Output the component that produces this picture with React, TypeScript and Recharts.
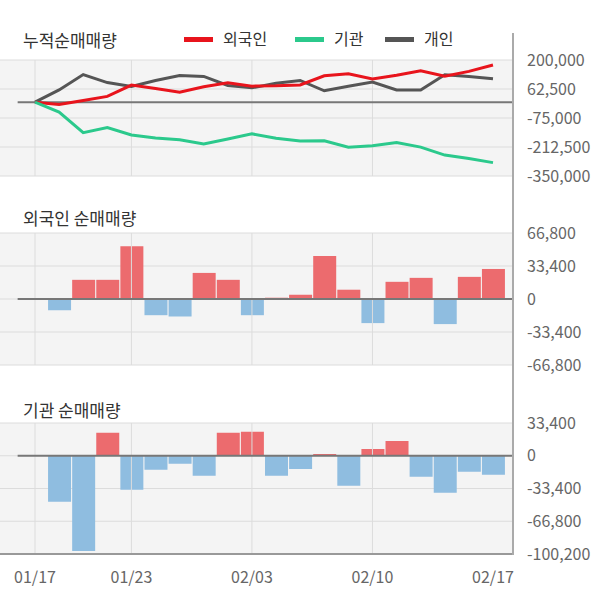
import React from 'react';
import {
  ComposedChart,
  Line,
  Bar,
  Cell,
  XAxis,
  YAxis,
  CartesianGrid,
  ReferenceLine,
} from 'recharts';

const dates = [
  '01/17', '01/20', '01/21', '01/22', '01/23', '01/28', '01/29', '01/30', '01/31', '02/03',
  '02/04', '02/05', '02/06', '02/07', '02/10', '02/11', '02/12', '02/13', '02/14', '02/17',
];
const tickIdx = [0, 4, 9, 14, 19];
const gridIdx = [0, 4, 9, 14];

// 누적순매매량
const foreignCum = [0, -11400, 8000, 27400, 80800, 64400, 46700, 73100, 92500, 76100, 77500, 81800, 125200, 134600, 110200, 127600, 149000, 123600, 146000, 176400];
const instCum = [0, -47000, -144200, -120700, -155400, -169700, -177900, -198300, -174800, -150300, -170700, -184400, -182700, -213300, -206500, -191500, -213000, -250800, -267200, -286600];
const indivCum = [0, 58000, 131000, 93000, 74000, 103000, 126000, 122000, 79000, 68000, 90000, 103000, 54000, 76000, 95000, 58000, 58000, 130000, 122000, 111000];

// 일별 순매매량
const foreignNet = [null, -11400, 19400, 19400, 53400, -16400, -17700, 26400, 19400, -16400, 1300, 4300, 43400, 9400, -24400, 17400, 21400, -25400, 22400, 30400];
const instNet = [null, -47000, -97100, 23500, -34800, -14300, -8200, -20500, 23500, 24500, -20500, -13600, 1700, -30700, 6800, 15000, -21500, -37800, -16400, -19400];

const cumTicks = [200000, 62500, -75000, -212500, -350000];
const foreignTicks = [66800, 33400, 0, -33400, -66800];
const instTicks = [33400, 0, -33400, -66800, -100200];

const rows = dates.map((d, i) => ({
  idx: i,
  date: d,
  foreignCum: foreignCum[i],
  instCum: instCum[i],
  indivCum: indivCum[i],
  foreignNet: foreignNet[i],
  instNet: instNet[i],
}));

const FONT = '"Noto Sans CJK KR", "Noto Sans", sans-serif';
const X_DOMAIN: [number, number] = [-1.452, 19.83];
const RED = '#e8141c';
const GREEN = '#2bc98c';
const GRAY = '#555555';
const BAR_UP = '#ec6b6e';
const BAR_DOWN = '#8fbde0';

const tickStyle = { fill: '#666', fontSize: 16, fontFamily: FONT };
const fmt = (v: number) => v.toLocaleString('en-US');

const Title = ({ text, top }: { text: string; top: number }) => (
  <div
    style={{
      position: 'absolute',
      left: 23,
      top,
      fontSize: 17,
      lineHeight: '20px',
      color: '#333',
      fontFamily: FONT,
      whiteSpace: 'nowrap',
    }}
  >
    {text}
  </div>
);

const legendItems = [
  { name: '외국인', color: RED, x: 184 },
  { name: '기관', color: GREEN, x: 295 },
  { name: '개인', color: GRAY, x: 385 },
];

const Grid = () => (
  <>
    <CartesianGrid vertical={false} stroke="#dcdcdc" fill="#f4f4f4" fillOpacity={1} />
    {gridIdx.map((g) => (
      <ReferenceLine key={g} x={g} stroke="#dcdcdc" />
    ))}
  </>
);

const zeroLine = (
  <ReferenceLine
    segment={[
      { x: -0.72, y: 0 },
      { x: 19.83, y: 0 },
    ]}
    stroke="#777"
    strokeWidth={2}
  />
);

export default function App() {
  return (
    <div
      style={{
        position: 'absolute',
        left: 0,
        top: 0,
        width: 600,
        height: 604,
        background: '#fff',
        fontFamily: FONT,
      }}
    >
      <Title text="누적순매매량" top={30} />
      {legendItems.map((it) => (
        <div key={it.name} style={{ position: 'absolute', left: it.x, top: 28 }}>
          <div
            style={{
              position: 'absolute',
              left: 0,
              top: 9,
              width: 29,
              height: 5,
              background: it.color,
            }}
          />
          <div
            style={{
              position: 'absolute',
              left: 39,
              top: 0,
              fontSize: 16,
              lineHeight: '20px',
              color: '#333',
              whiteSpace: 'nowrap',
            }}
          >
            {it.name}
          </div>
        </div>
      ))}

      <div style={{ position: 'absolute', left: 0, top: 40 }}>
        <ComposedChart width={600} height={151} data={rows} margin={{ top: 20, right: 0, bottom: 15, left: 0 }}>
          {Grid()}
          <XAxis dataKey="idx" type="number" domain={X_DOMAIN} allowDataOverflow hide />
          <YAxis
            orientation="right"
            width={87}
            domain={[-350000, 200000]}
            ticks={cumTicks}
            interval={0}
            tickFormatter={fmt}
            axisLine={false}
            tickLine={false}
            tickSize={0}
            tickMargin={14}
            tick={tickStyle}
          />
          {zeroLine}
          <Line type="linear" dataKey="indivCum" stroke={GRAY} strokeWidth={3} dot={false} isAnimationActive={false} />
          <Line type="linear" dataKey="foreignCum" stroke={RED} strokeWidth={3} dot={false} isAnimationActive={false} />
          <Line type="linear" dataKey="instCum" stroke={GREEN} strokeWidth={3} dot={false} isAnimationActive={false} />
        </ComposedChart>
      </div>

      <Title text="외국인 순매매량" top={208} />
      <div style={{ position: 'absolute', left: 0, top: 213 }}>
        <ComposedChart width={600} height={167} data={rows} margin={{ top: 20, right: 0, bottom: 15, left: 0 }}>
          {Grid()}
          <XAxis dataKey="idx" type="number" domain={X_DOMAIN} allowDataOverflow hide />
          <YAxis
            orientation="right"
            width={87}
            domain={[-66800, 66800]}
            ticks={foreignTicks}
            interval={0}
            tickFormatter={fmt}
            axisLine={false}
            tickLine={false}
            tickSize={0}
            tickMargin={14}
            tick={tickStyle}
          />
          <Bar dataKey="foreignNet" barSize={23} isAnimationActive={false}>
            {rows.map((r) => (
              <Cell key={r.idx} fill={(r.foreignNet ?? 0) >= 0 ? BAR_UP : BAR_DOWN} />
            ))}
          </Bar>
          {zeroLine}
        </ComposedChart>
      </div>

      <Title text="기관 순매매량" top={400} />
      <div style={{ position: 'absolute', left: 0, top: 403 }}>
        <ComposedChart width={600} height={191} data={rows} margin={{ top: 20, right: 0, bottom: 0, left: 0 }}>
          {Grid()}
          <XAxis
            dataKey="idx"
            type="number"
            domain={X_DOMAIN}
            allowDataOverflow
            ticks={tickIdx}
            interval={0}
            tickFormatter={(v: number) => dates[v] ?? ''}
            height={40}
            axisLine={{ stroke: '#999', strokeWidth: 2 }}
            tickLine={false}
            tickSize={0}
            tickMargin={18}
            tick={tickStyle}
          />
          <YAxis
            orientation="right"
            width={87}
            domain={[-100200, 33400]}
            ticks={instTicks}
            interval={0}
            tickFormatter={fmt}
            axisLine={false}
            tickLine={false}
            tickSize={0}
            tickMargin={14}
            tick={tickStyle}
          />
          <Bar dataKey="instNet" barSize={23} isAnimationActive={false}>
            {rows.map((r) => (
              <Cell key={r.idx} fill={(r.instNet ?? 0) >= 0 ? BAR_UP : BAR_DOWN} />
            ))}
          </Bar>
          {zeroLine}
        </ComposedChart>
      </div>

      <div
        style={{
          position: 'absolute',
          left: 512,
          top: 33,
          width: 2,
          height: 522,
          background: '#aaa',
        }}
      />
    </div>
  );
}
